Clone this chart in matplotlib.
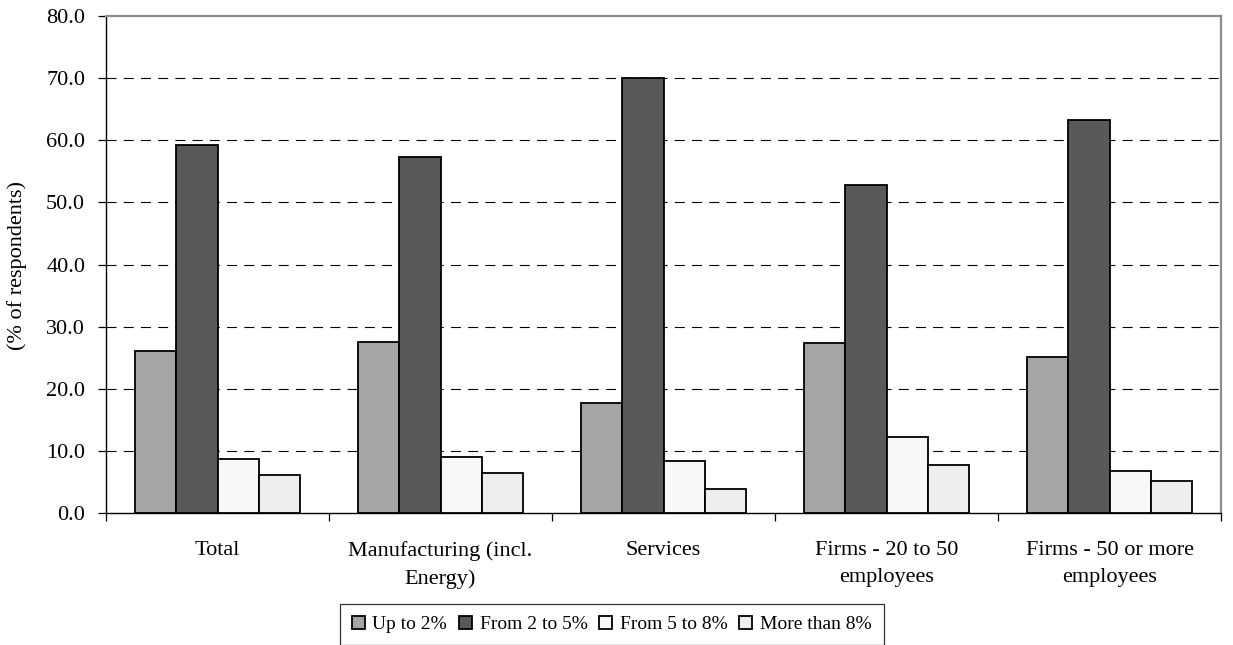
import matplotlib
matplotlib.use("Agg")
import matplotlib.pyplot as plt
import numpy as np

categories = ["Total", "Manufacturing (incl.\nEnergy)", "Services",
              "Firms - 20 to 50\nemployees", "Firms - 50 or more\nemployees"]
series_names = ["Up to 2%", "From 2 to 5%", "From 5 to 8%", "More than 8%"]
up_to_2 = [26.1, 27.6, 17.7, 27.4, 25.1]
from_2_to_5 = [59.2, 57.3, 70.1, 52.8, 63.2]
from_5_to_8 = [8.7, 9.0, 8.4, 12.2, 6.7]
more_than_8 = [6.1, 6.4, 3.9, 7.8, 5.2]
y_ticks = [0, 10, 20, 30, 40, 50, 60, 70, 80]

series = [up_to_2, from_2_to_5, from_5_to_8, more_than_8]
colors = ["#A5A5A5", "#595959", "#F8F8F8", "#EEEEEE"]

plt.rcParams["font.family"] = ["Liberation Serif", "DejaVu Serif"]

W, H = 1233, 645
fig = plt.figure(figsize=(W / 100, H / 100), dpi=100)
ax = fig.add_axes([106 / W, 1 - 513 / H, (1221 - 106) / W, (513 - 16) / H])

n = len(categories)
centers = np.arange(n) + 0.5
bw = 0.185
for k, (vals, col, name) in enumerate(zip(series, colors, series_names)):
    ax.bar(centers + (k - 1.5) * bw, vals, width=bw, color=col,
           edgecolor="black", linewidth=1.3, label=name, zorder=3)

ax.set_xlim(0, n)
ax.set_ylim(0, 80)
ax.set_yticks(y_ticks)
ax.set_yticklabels([f"{v:.1f}" for v in y_ticks], fontsize=16)

# group separators as major ticks, category names centred as minor ticks
ax.set_xticks(np.arange(n + 1))
ax.set_xticklabels([])
ax.set_xticks(centers, minor=True)
ax.set_xticklabels(categories, minor=True, fontsize=16, linespacing=1.6)
ax.tick_params(axis="x", which="major", direction="out", length=6, width=0.9)
ax.tick_params(axis="x", which="minor", length=0, pad=20)
ax.tick_params(axis="y", direction="out", length=6, width=0.9, pad=9)

for g in y_ticks[1:-1]:
    ax.axhline(g, color="black", linewidth=0.8, linestyle=(0, (9, 6.5)), zorder=1)

for s in ("left", "bottom"):
    ax.spines[s].set_color("black")
    ax.spines[s].set_linewidth(1.0)
for s in ("top", "right"):
    ax.spines[s].set_color("#8C8C8C")
    ax.spines[s].set_linewidth(1.6)

fig.text(17 / W, 1 - 265 / H, "(% of respondents)", rotation=90,
         ha="center", va="center", fontsize=16)

leg = fig.legend(loc="upper left", bbox_to_anchor=(340 / W, 1 - 604 / H),
                 ncol=4, fontsize=14, frameon=True, fancybox=False,
                 handlelength=0.67, handleheight=0.67, handletextpad=0.4,
                 columnspacing=0.6, borderpad=0.6, borderaxespad=0)
leg.get_frame().set_edgecolor("black")
leg.get_frame().set_linewidth(0.9)

fig.savefig("out.png", dpi=100, facecolor="white")
